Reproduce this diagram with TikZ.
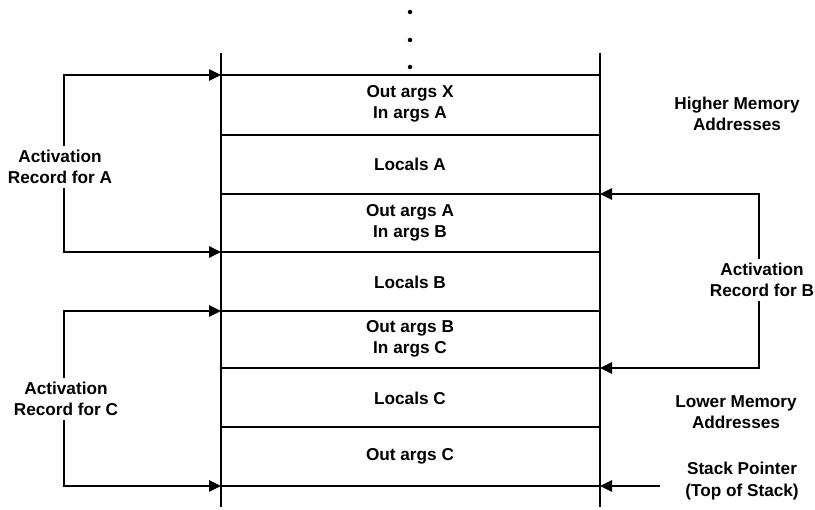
\documentclass[tikz,border=0pt]{standalone}
\usepackage{fontspec}
\setmainfont{Liberation Sans}
\usetikzlibrary{arrows.meta}
\begin{document}
\begin{tikzpicture}[x=1pt,y=-1pt,line width=2.5pt,
  lbl/.style={font=\bfseries\fontsize{17.2}{21.5}\selectfont,align=center,inner sep=3pt},
  tip/.style={-{Triangle[length=12pt,width=11pt]}},
  dotmark/.style={circle,fill=black,inner sep=0pt,minimum size=4.5pt}]
\useasboundingbox (0,0) rectangle (815,510);
% stack frame edges
\coordinate (LT) at (221,53); \coordinate (LB) at (221,507);
\coordinate (RT) at (600,53); \coordinate (RB) at (600,507);
\draw (LT) -- (LB);
\draw (RT) -- (RB);
% horizontal separators
\foreach \i/\y in {0/75,1/135,2/194,3/252,4/311,5/368,6/427,7/486}{
  \coordinate (l\i) at (221,\y);
  \coordinate (r\i) at (600,\y);
  \draw (l\i) -- (r\i);
}
% continuation dots
\node[dotmark] (d1) at (410,12) {};
\node[dotmark] (d2) at (410,40) {};
\node[dotmark] (d3) at (410,67) {};
% cell labels
\node[lbl] (c1) at (410,104) {Out args X\\In args A};
\node[lbl] (c2) at (410,164) {Locals A};
\node[lbl] (c3) at (410,223) {Out args A\\In args B};
\node[lbl] (c4) at (410,282) {Locals B};
\node[lbl] (c5) at (410,339) {Out args B\\In args C};
\node[lbl] (c6) at (410,398) {Locals C};
\node[lbl] (c7) at (410,456) {Out args C};
% side labels
\node[lbl] (hi) at (737,114) {Higher Memory\\Addresses};
\node[lbl] (lo) at (736,412) {Lower Memory\\Addresses};
\node[lbl] (sp) at (742,481) {Stack Pointer\\(Top of Stack)};
\coordinate (spt) at (660,486);
\draw[tip] (spt) -- (r7);
% activation record A
\node[lbl] (aA) at (60,167) {Activation\\Record for A};
\draw[tip] (aA.north -| 64,0) |- (l0);
\draw[tip] (aA.south -| 64,0) |- (l3);
% activation record B
\node[lbl] (aB) at (762,280) {Activation\\Record for B};
\draw[tip] (aB.north -| 759,0) |- (r2);
\draw[tip] (aB.south -| 759,0) |- (r5);
% activation record C
\node[lbl] (aC) at (66,399) {Activation\\Record for C};
\draw[tip] (aC.north -| 64,0) |- (l4);
\draw[tip] (aC.south -| 64,0) |- (l7);
\end{tikzpicture}
\end{document}
